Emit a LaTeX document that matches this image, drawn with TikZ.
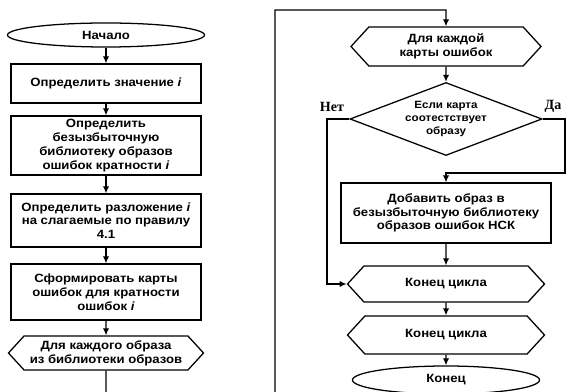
\documentclass[tikz,border=0pt]{standalone}
\usepackage{fontspec}
\setmainfont[FakeStretch=1.1]{Liberation Sans}
\newfontfamily\labelfont{Liberation Serif}
\usetikzlibrary{arrows.meta,shapes.geometric,shapes.symbols}

\begin{document}
\begin{tikzpicture}[
  x=0.025cm, y=-0.025cm,
  font=\fontsize{8.5}{9.8}\selectfont\bfseries,
  >={Latex[length=5pt,width=4.5pt]},
  line width=0.9pt,
  procbox/.style={draw, align=center, minimum width=4.75cm, inner sep=2pt},
  loopbox/.style={draw, signal, signal to=west and east, signal pointer angle=95, align=center, inner sep=1pt},
  termbox/.style={draw, ellipse, inner sep=0pt},
  testbox/.style={draw, diamond, aspect=2.63, inner sep=0pt, align=center, font=\fontsize{7.5}{9}\selectfont\bfseries},
  lbl/.style={font=\labelfont\fontsize{10}{12}\selectfont\bfseries},
  arr/.style={->}
]
\useasboundingbox (0,0) rectangle (569,392);
% left column
\node[termbox, minimum width=4.925cm, minimum height=0.6cm] (st) at (106,35) {Начало};
\node[procbox, minimum height=0.975cm] (p1) at (106,83.5) {Определить значение \textit{i}};
\node[procbox, minimum height=1.475cm] (p2) at (106,145.5) {Определить\\безызбыточную\\библиотеку образов\\ошибок кратности \textit{i}};
\node[procbox, minimum height=1.325cm] (p3) at (106,220.5) {Определить разложение \textit{i}\\на слагаемые по правилу\\4.1};
\node[procbox, minimum height=1.4cm] (p4) at (106,292) {Сформировать карты\\ошибок для кратности\\ошибок \textit{i}};
\node[loopbox, minimum width=4.875cm, minimum height=0.85cm] (h1) at (106,353) {Для каждого образа\\из библиотеки образов};
\coordinate (c1) at (106,392);
\draw[arr] (st) -- (p1);
\draw[arr] (p1) -- (p2);
\draw[arr] (p2) -- (p3);
\draw[arr] (p3) -- (p4);
\draw[arr] (p4) -- (h1);
\draw (h1) -- (c1);
% right column
\node[loopbox, minimum width=4.75cm, minimum height=0.975cm] (h2) at (446,46.5) {Для каждой\\карты ошибок};
\node[testbox, minimum width=4.8cm, minimum height=1.825cm] (d1) at (446,119) {Если карта\\соотестствует\\образу};
\node[procbox, minimum width=5.25cm, minimum height=1.5cm] (p5) at (446,213) {Добавить образ в\\безызбыточную библиотеку\\образов ошибок НСК};
\node[loopbox, minimum width=4.925cm, minimum height=0.9cm] (h3) at (446,284) {Конец цикла};
\node[loopbox, minimum width=4.925cm, minimum height=0.95cm] (h4) at (446,335) {Конец цикла};
\node[termbox, minimum width=4.675cm, minimum height=0.7cm] (en) at (446,380) {Конец};
\node[lbl] (no) at (332,107) {Нет};
\node[lbl] (yes) at (553,106) {Да};
\coordinate (c2) at (275,392);
\coordinate (c3) at (446,10);
\coordinate (c4) at (565,173);
\coordinate (c5) at (446,173);
\coordinate (c6) at (327,284);
\draw[arr] (c2) |- (c3) -- (h2);
\draw[arr] (h2) -- (d1);
\draw[arr] (d1.east) -| (c4) -- (c5) -- (p5);
\draw[arr] (d1.west) -| (c6) -- (h3.west);
\draw[arr] (p5) -- (h3);
\draw[arr] (h3) -- (h4);
\draw[arr] (h4) -- (en);
\end{tikzpicture}
\end{document}
